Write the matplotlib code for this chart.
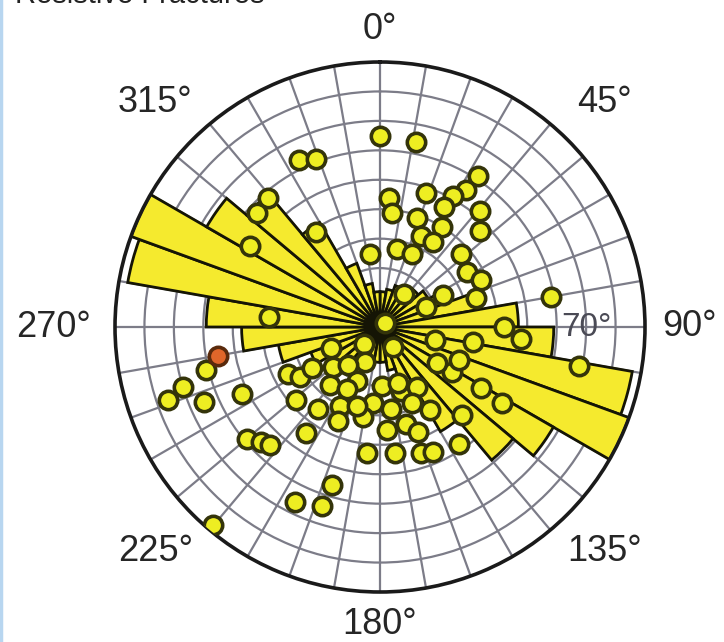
import numpy as np
import matplotlib
matplotlib.use('Agg')
import matplotlib.pyplot as plt
from matplotlib.lines import Line2D

plt.rcParams['font.family'] = ['Liberation Sans', 'DejaVu Sans']

# rose diagram: strike counts per 10 deg bin (0-180, mirrored to 180-360)
bin_centers = np.arange(5, 180, 10)
bin_lengths = [12, 13, 15, 16, 17, 19, 25, 35, 47, 59, 87, 90, 68, 59, 41, 23, 15, 12]

# fracture poles: azimuth (deg) and dip (deg)
pole_az = [0, 11, 334, 339, 319, 313, 302, 326, 352, 4, 6, 33, 32, 29, 19, 28, 41, 19, 32, 46,
           24, 32, 12, 24, 48, 58, 65, 73, 63, 36, 67, 80, 90, 95, 51, 103, 99, 101, 147, 223,
           122, 121, 122, 137, 146, 203, 178, 162, 148, 203, 185, 172, 157, 149, 191, 176, 165, 160, 186, 173,
           162, 157, 256, 253, 251, 247, 244, 243, 238, 239, 230, 220, 229, 217, 207, 196, 221, 208, 215, 204,
           230, 226, 223, 197, 206, 198, 220, 275, 162, 122, 113, 247]
pole_dip = [65, 64, 63, 61, 58, 57, 52, 39, 25, 44, 39, 61, 55, 51, 48, 46, 52, 39, 40, 47,
            34, 34, 27, 27, 37, 35, 38, 34, 24, 14, 17, 59, 42, 48, 2, 19, 32, 69, 8, 8,
            29, 40, 49, 41, 48, 13, 20, 23, 24, 20, 26, 28, 28, 33, 31, 35, 34, 38, 43, 43,
            45, 46, 61, 70, 76, 65, 52, 35, 32, 27, 21, 17, 38, 35, 30, 28, 26, 24, 44, 35,
            59, 56, 55, 56, 66, 64, 88, 38, 20, 23, 29, 18]
# the single highlighted (orange) pole
hot_az = [260]
hot_dip = [56]

dir_labels = ['0°', '45°', '90°', '135°', '180°', '225°', '270°', '315°']
dir_angles = [0, 45, 90, 135, 180, 225, 270, 315]
dir_radius = [101, 108, 105, 108, 101, 108, 111, 108]

fig = plt.figure(figsize=(7.24, 6.42), dpi=100)
ax = fig.add_axes([115 / 724, 50 / 642, 530 / 724, 530 / 642], projection='polar')
ax.set_theta_zero_location('N')
ax.set_theta_direction(-1)
ax.set_ylim(0, 90)
ax.set_axisbelow(True)

ax.set_xticks(np.deg2rad(np.arange(0, 360, 10)))
ax.set_xticklabels([])
ax.set_yticks(np.arange(10, 90, 10))
ax.set_yticklabels([])
ax.grid(True, color='#7c7c88', linewidth=1.6)
ax.spines['polar'].set_linewidth(2.6)
ax.spines['polar'].set_color('#1a1a1a')

# bidirectional rose
theta = np.deg2rad(np.concatenate([bin_centers, bin_centers + 180]))
lengths = np.concatenate([bin_lengths, bin_lengths])
ax.bar(theta, lengths, width=np.deg2rad(10), bottom=0, color='#f5ea2e',
       edgecolor='#151505', linewidth=2.0, zorder=2)

ax.scatter(np.deg2rad(pole_az), pole_dip, s=175, c='#eeee22', edgecolors='#34340a',
           linewidths=2.6, zorder=4)
ax.scatter(np.deg2rad(hot_az), hot_dip, s=175, c='#e0662a', edgecolors='#5a2a0c',
           linewidths=2.6, zorder=5)

for lab, ang, rr in zip(dir_labels, dir_angles, dir_radius):
    ax.text(np.deg2rad(ang), rr, lab, ha='center', va='center', fontsize=26,
            color='#262626', clip_on=False)
ax.text(np.deg2rad(90), 70, '70°', ha='center', va='center', fontsize=24,
        color='#4a4a55', zorder=6)

fig.text(15 / 724, 1 - 3 / 642, 'Resistive Fractures', fontsize=21, color='#222222',
         va='baseline', ha='left')
fig.add_artist(Line2D([0.002, 0.002], [0, 1], color='#b8d6f0', linewidth=2.5))

fig.savefig('out.png', dpi=100)
